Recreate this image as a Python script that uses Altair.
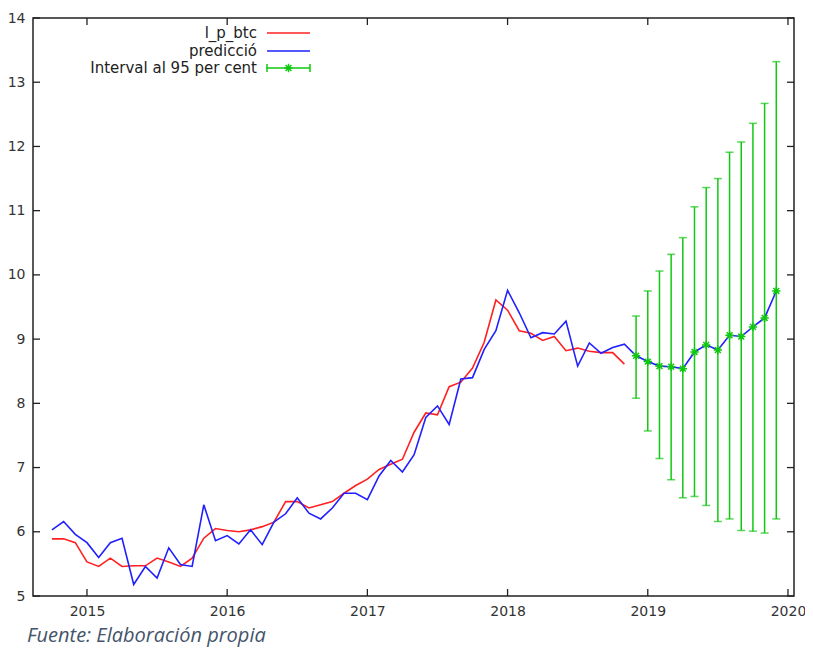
import altair as alt
import pandas as pd

# ---------------- data ----------------
start_year, start_month = 2014, 10          # first observation: Oct 2014

l_p_btc = [5.89, 5.89, 5.83, 5.53, 5.46, 5.59, 5.46, 5.47, 5.47, 5.59,
           5.53, 5.46, 5.59, 5.90, 6.05, 6.02, 6.00, 6.03, 6.08, 6.15,
           6.47, 6.47, 6.37, 6.42, 6.47, 6.60, 6.72, 6.82, 6.97, 7.05,
           7.13, 7.55, 7.85, 7.82, 8.26, 8.33, 8.55, 8.95, 9.61, 9.45,
           9.13, 9.09, 8.98, 9.04, 8.82, 8.86, 8.81, 8.79, 8.79, 8.61]

prediccio_hist = [6.03, 6.16, 5.96, 5.83, 5.60, 5.83, 5.90, 5.18, 5.46, 5.28,
                  5.75, 5.49, 5.46, 6.42, 5.86, 5.94, 5.81, 6.03, 5.80, 6.15,
                  6.28, 6.53, 6.29, 6.20, 6.37, 6.60, 6.60, 6.50, 6.87, 7.11,
                  6.93, 7.20, 7.78, 7.96, 7.67, 8.38, 8.40, 8.84, 9.13, 9.76,
                  9.41, 9.02, 9.10, 9.08, 9.28, 8.58, 8.94, 8.78, 8.87, 8.92]

forecast = [8.74, 8.65, 8.58, 8.57, 8.54, 8.80, 8.91, 8.83, 9.06, 9.04, 9.19, 9.33, 9.75]
upper    = [9.36, 9.75, 10.06, 10.32, 10.58, 11.06, 11.36, 11.50, 11.91, 12.07, 12.36, 12.67, 13.32]
lower    = [8.08, 7.57, 7.14, 6.81, 6.53, 6.55, 6.41, 6.16, 6.20, 6.02, 6.01, 5.98, 6.20]

x_ticks = [2015, 2016, 2017, 2018, 2019, 2020]
y_ticks = [5, 6, 7, 8, 9, 10, 11, 12, 13, 14]

legend_labels = ["l_p_btc", "predicció", "Interval al 95 per cent"]
footer = "Fuente: Elaboración propia"

# ---------------- tables ----------------
pred_all = prediccio_hist + forecast
periods = pd.period_range(f"{start_year}-{start_month:02d}", periods=len(pred_all), freq="M")
t_all = [p.year + (p.month - 1) / 12 for p in periods]

df_red = pd.DataFrame({"t": t_all[:len(l_p_btc)], "v": l_p_btc})
df_blue = pd.DataFrame({"t": t_all, "v": pred_all})
df_fc = pd.DataFrame({"t": t_all[len(prediccio_hist):], "v": forecast,
                      "lo": lower, "hi": upper})
df_xt = pd.DataFrame({"t": x_ticks})
df_yt = pd.DataFrame({"v": y_ticks})

# ---------------- layout ----------------
W, H = 761, 578
RED, BLUE, GREEN = "#ff2020", "#2020ff", "#11c811"
FRAME = "#222222"
FONT = "DejaVu Sans"
STAR = "M-1,0L1,0M0,-1L0,1M-0.7,-0.7L0.7,0.7M-0.7,0.7L0.7,-0.7"

xscale = alt.Scale(domain=[2014.615, 2020.043], nice=False, zero=False)
yscale = alt.Scale(domain=[5, 14], nice=False, zero=False)
xaxis = alt.Axis(values=x_ticks, format="d", title=None)
yaxis = alt.Axis(values=y_ticks, format="d", title=None)


def X(field="t"):
    return alt.X(f"{field}:Q", scale=xscale, axis=xaxis)


def Y(field="v"):
    return alt.Y(f"{field}:Q", scale=yscale, axis=yaxis)


red_line = alt.Chart(df_red).mark_line(color=RED, strokeWidth=1.6).encode(x=X(), y=Y())
blue_line = alt.Chart(df_blue).mark_line(color=BLUE, strokeWidth=1.6).encode(x=X(), y=Y())

err_rule = alt.Chart(df_fc).mark_rule(color=GREEN, strokeWidth=1.5).encode(
    x=X(), y=Y("lo"), y2="hi:Q")
cap_hi = alt.Chart(df_fc).mark_tick(color=GREEN, orient="horizontal", size=8, thickness=1.5).encode(
    x=X(), y=Y("hi"))
cap_lo = alt.Chart(df_fc).mark_tick(color=GREEN, orient="horizontal", size=8, thickness=1.5).encode(
    x=X(), y=Y("lo"))
stars = alt.Chart(df_fc).mark_point(shape=STAR, filled=False, color=GREEN, strokeWidth=1.5,
                                    size=70, opacity=1).encode(x=X(), y=Y())

# inward ticks on all four sides
tk = dict(color=FRAME, strokeWidth=1.3)
yt_left = alt.Chart(df_yt).mark_rule(**tk).encode(y=Y(), x=alt.value(0), x2=alt.value(7))
yt_right = alt.Chart(df_yt).mark_rule(**tk).encode(y=Y(), x=alt.value(W - 7), x2=alt.value(W))
xt_bottom = alt.Chart(df_xt).mark_rule(**tk).encode(x=X(), y=alt.value(H - 7), y2=alt.value(H))
xt_top = alt.Chart(df_xt).mark_rule(**tk).encode(x=X(), y=alt.value(0), y2=alt.value(7))

# custom legend (top-left)
one = pd.DataFrame({"a": [0]})
LX_TEXT, LX0, LX1 = 224, 234, 277
rows_y = [15, 33, 50]
legend_layers = []
for lab, yy in zip(legend_labels, rows_y):
    legend_layers.append(
        alt.Chart(one).mark_text(text=lab, align="right", baseline="middle", font=FONT,
                                 fontSize=15, color="#222222")
        .encode(x=alt.value(LX_TEXT), y=alt.value(yy)))
legend_layers.append(alt.Chart(one).mark_rule(color=RED, strokeWidth=1.6)
                     .encode(x=alt.value(LX0), x2=alt.value(LX1), y=alt.value(rows_y[0])))
legend_layers.append(alt.Chart(one).mark_rule(color=BLUE, strokeWidth=1.6)
                     .encode(x=alt.value(LX0), x2=alt.value(LX1), y=alt.value(rows_y[1])))
legend_layers.append(alt.Chart(one).mark_rule(color=GREEN, strokeWidth=1.5)
                     .encode(x=alt.value(LX0), x2=alt.value(LX1), y=alt.value(rows_y[2])))
for cx in (LX0, LX1):
    legend_layers.append(alt.Chart(one).mark_rule(color=GREEN, strokeWidth=1.5)
                         .encode(x=alt.value(cx), y=alt.value(rows_y[2] - 4), y2=alt.value(rows_y[2] + 4)))
legend_layers.append(alt.Chart(one).mark_point(shape=STAR, filled=False, color=GREEN, strokeWidth=1.5,
                                               size=70, opacity=1)
                     .encode(x=alt.value((LX0 + LX1) / 2), y=alt.value(rows_y[2])))

footer_text = alt.Chart(one).mark_text(text=footer, align="left", baseline="alphabetic",
                                       font="Open Sans", fontStyle="italic", fontSize=20,
                                       color="#44546a").encode(x=alt.value(-6), y=alt.value(624))

chart = alt.layer(
    red_line, blue_line, err_rule, cap_hi, cap_lo, stars,
    yt_left, yt_right, xt_bottom, xt_top,
    *legend_layers, footer_text
).properties(
    width=W, height=H,
    autosize=alt.AutoSizeParams(type="none"),
    padding={"left": 25, "top": 10, "right": 11, "bottom": 51},
    background="white",
).configure_view(
    stroke=FRAME, strokeWidth=1.5
).configure_axis(
    domain=False, ticks=False, tickSize=0, grid=False,
    labelFont=FONT, labelFontSize=14, labelColor="#333333"
).configure_axisY(
    labelPadding=8
).configure_axisX(
    labelPadding=8
)

chart.save("out.html", embed_options={"renderer": "svg", "actions": False})
